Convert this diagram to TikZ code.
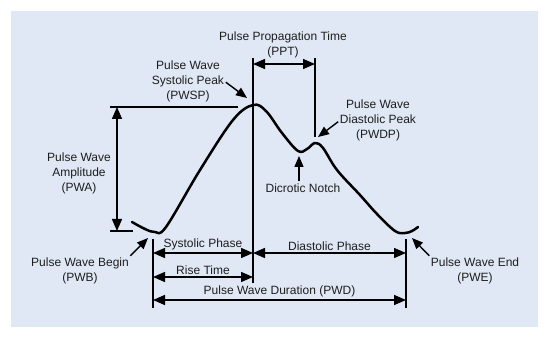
\documentclass[tikz,border=0pt]{standalone}
\usepackage{fontspec}
\setmainfont{Liberation Sans}
\usepackage{xcolor}
\usepackage{tikz}
\usetikzlibrary{arrows.meta,positioning}

\definecolor{panel}{RGB}{223,232,244}
\definecolor{ink}{RGB}{30,30,30}

\begin{document}
\begin{tikzpicture}[
  x=1pt, y=-1pt,
  txt/.style={align=center, inner sep=0pt, text=ink, font=\fontsize{12}{15}\selectfont},
  lbl/.style={txt, above, inner sep=2pt},
  guide/.style={line width=1.4pt},
  dim/.style={guide, {Triangle[length=12pt,width=10pt]}-{Triangle[length=12pt,width=10pt]}},
  pointer/.style={line width=1.4pt, -{Triangle[length=11pt,width=9pt]}, shorten <=2pt},
  wave/.style={line width=2.5pt, line cap=round, line join=round}
]
\useasboundingbox (0,0) rectangle (550,337);
\fill[panel] (11,11) rectangle (538,327);

% pulse curve
\draw[wave] plot[smooth, tension=0.6] coordinates {
  (132,222) (145,229) (155,232) (166,227) (200,170) (233,120) (253,105)
  (266,111) (282,133) (298,151) (307,149) (315,143) (323,148) (337,170)
  (360,195) (377,214) (395,231) (405,233) (412,231) (418,227)};

% points on the curve
\coordinate (peakTip) at (247,98);
\coordinate (diaTip) at (318,137);
\coordinate (notchTip) at (299,156);
\coordinate (begTip) at (148,238);
\coordinate (endTip) at (412,238);

% guide lines
\coordinate (sysTop) at (253,58);
\coordinate (sysBot) at (253,283);
\coordinate (diaTop) at (315,58);
\coordinate (diaBot) at (315,137);
\coordinate (begTop) at (153,239);
\coordinate (begBot) at (153,308);
\coordinate (endTop) at (406,239);
\coordinate (endBot) at (406,308);
\coordinate (ampL) at (110,107);
\coordinate (ampR) at (238,107);
\coordinate (baseL) at (110,231);
\coordinate (baseR) at (133,231);

% rows and columns of the dimension arrows
\coordinate (pptRow) at (0,64);
\coordinate (phaseRow) at (0,253);
\coordinate (riseRow) at (0,277);
\coordinate (pwdRow) at (0,300);
\coordinate (ampCol) at (117,0);

\draw[guide] (sysTop) -- (sysBot);
\draw[guide] (diaTop) -- (diaBot);
\draw[guide] (begTop) -- (begBot);
\draw[guide] (endTop) -- (endBot);
\draw[guide] (ampL) -- (ampR);
\draw[guide] (baseL) -- (baseR);

% labels
\node[txt] (ppt) at (283,44.5) {Pulse Propagation Time\\(PPT)};
\node[txt] (pwsp) at (188,81) {Pulse Wave\\Systolic Peak\\(PWSP)};
\node[txt] (pwdp) at (378,120.5) {Pulse Wave\\Diastolic Peak\\(PWDP)};
\node[txt] (pwa) at (79,173) {Pulse Wave\\Amplitude\\(PWA)};
\node[txt] (notch) at (303,188) {Dicrotic Notch};
\node[txt] (pwb) at (80,270.5) {Pulse Wave Begin\\(PWB)};
\node[txt] (pwe) at (475,270.5) {Pulse Wave End\\(PWE)};

\draw[pointer] (pwsp.east) -- (peakTip);
\draw[pointer] (pwdp.west) -- (diaTip);
\draw[pointer] (notch.north -| notchTip) -- (notchTip);
\draw[pointer] (pwb.north east) -- (begTip);
\draw[pointer] (pwe.north west) -- (endTip);

% dimensions
\draw[dim] (sysTop |- pptRow) -- (diaTop |- pptRow);
\draw[dim] (ampCol |- ampL) -- (ampCol |- baseL);
\draw[dim] (begTop |- phaseRow) -- node[lbl] (sysph) {Systolic Phase} (sysTop |- phaseRow);
\draw[dim] (sysTop |- phaseRow) -- node[lbl] (diaph) {Diastolic Phase} (endTop |- phaseRow);
\draw[dim] (begTop |- riseRow) -- node[lbl] (rise) {Rise Time} (sysTop |- riseRow);
\draw[dim] (begTop |- pwdRow) -- node[lbl] (pwd) {Pulse Wave Duration (PWD)} (endTop |- pwdRow);
\end{tikzpicture}
\end{document}
